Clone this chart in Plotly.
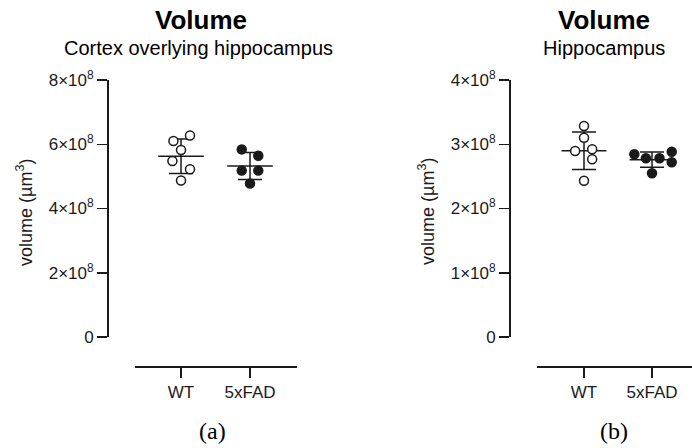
import numpy as np
import plotly.graph_objects as go

# ---------------- data ----------------
categories = ["WT", "5xFAD"]

cortex_wt = [6.10e8, 6.27e8, 5.82e8, 5.48e8, 5.22e8, 4.87e8]
cortex_5xfad = [5.84e8, 5.64e8, 5.18e8, 5.18e8, 4.78e8]

hippo_wt = [3.284e8, 3.102e8, 2.895e8, 2.921e8, 2.766e8, 2.433e8]
hippo_5xfad = [2.844e8, 2.781e8, 2.781e8, 2.884e8, 2.719e8, 2.548e8]

cortex_ticks = [0, 2e8, 4e8, 6e8, 8e8]
cortex_ticktext = ["0", "2×10<sup>8</sup>", "4×10<sup>8</sup>", "6×10<sup>8</sup>", "8×10<sup>8</sup>"]
hippo_ticks = [0, 1e8, 2e8, 3e8, 4e8]
hippo_ticktext = ["0", "1×10<sup>8</sup>", "2×10<sup>8</sup>", "3×10<sup>8</sup>", "4×10<sup>8</sup>"]

# horizontal scatter spread (category units) used to avoid overlapping dots
cortex_wt_jitter = [-0.11, 0.13, 0.0, -0.125, 0.13, 0.0]
cortex_5xfad_jitter = [-0.12, 0.12, -0.12, 0.12, 0.0]
hippo_wt_jitter = [0.0, 0.0, -0.13, 0.12, 0.12, 0.0]
hippo_5xfad_jitter = [-0.26, -0.09, 0.11, 0.29, 0.29, 0.0]

# ---------------- styling ----------------
W, H = 692, 448
FONT = "Liberation Sans, Arial, Helvetica, sans-serif"
INK = "#1a1a1a"
AX_W = 1.5
MEAN_HALF = 0.33


def px(x):
    return x / W


def py(y):
    return 1 - y / H


fig = go.Figure()


def add_group(xa, ya, xpos, values, jitter, filled):
    v = np.array(values)
    mean = v.mean()
    sd = v.std(ddof=1)
    # mean line
    fig.add_trace(go.Scatter(
        x=[xpos - MEAN_HALF, xpos + MEAN_HALF], y=[mean, mean], mode="lines",
        line=dict(color=INK, width=1.5), xaxis=xa, yaxis=ya, hoverinfo="skip"))
    # SD error bar
    fig.add_trace(go.Scatter(
        x=[xpos], y=[mean], mode="markers", marker=dict(size=1, color="rgba(0,0,0,0)"),
        error_y=dict(type="data", array=[sd], visible=True, color=INK,
                     thickness=1.5, width=12),
        xaxis=xa, yaxis=ya, hoverinfo="skip"))
    # points
    fig.add_trace(go.Scatter(
        x=[xpos + j for j in jitter], y=values, mode="markers",
        marker=dict(size=9, color=INK if filled else "white",
                    line=dict(color=INK, width=1.5)),
        xaxis=xa, yaxis=ya, cliponaxis=False))


add_group("x", "y", 0, cortex_wt, cortex_wt_jitter, False)
add_group("x", "y", 1, cortex_5xfad, cortex_5xfad_jitter, True)
add_group("x2", "y2", 0, hippo_wt, hippo_wt_jitter, False)
add_group("x2", "y2", 1, hippo_5xfad, hippo_5xfad_jitter, True)

common_x = dict(showline=True, linecolor=INK, linewidth=AX_W, ticks="outside",
                ticklen=10, tickwidth=AX_W, tickcolor=INK, tickvals=[0, 1],
                ticktext=categories, showgrid=False, zeroline=False,
                tickfont=dict(family=FONT, size=17, color=INK), anchor="free",
                position=py(366), fixedrange=True, automargin=False)
common_y = dict(showline=True, linecolor=INK, linewidth=AX_W, ticks="outside",
                ticklen=10, tickwidth=AX_W, tickcolor=INK, showgrid=False,
                zeroline=False, tickfont=dict(family=FONT, size=17, color=INK),
                anchor="free", domain=[py(337), py(80)], fixedrange=True,
                automargin=False)

fig.update_layout(
    width=W, height=H, margin=dict(l=0, r=0, t=0, b=0, pad=0, autoexpand=False),
    paper_bgcolor="white", plot_bgcolor="white", showlegend=False,
    xaxis=dict(common_x, domain=[px(135), px(297)], range=[-0.667, 1.681]),
    yaxis=dict(common_y, range=[0, 8e8], position=px(107),
               tickvals=cortex_ticks, ticktext=cortex_ticktext),
    xaxis2=dict(common_x, domain=[px(537), 1.0], range=[-0.691, 1.588]),
    yaxis2=dict(common_y, range=[0, 4e8], position=px(509),
                tickvals=hippo_ticks, ticktext=hippo_ticktext),
)

annots = [
    dict(x=px(201), y=py(20), text="<b>Volume</b>", size=26, font=FONT),
    dict(x=px(198), y=py(48), text="Cortex overlying hippocampus", size=20, font=FONT),
    dict(x=px(604), y=py(20), text="<b>Volume</b>", size=26, font=FONT),
    dict(x=px(604), y=py(48), text="Hippocampus", size=20, font=FONT),
    dict(x=px(212), y=py(431), text="(a)", size=24, font="Liberation Serif, Times New Roman, serif"),
    dict(x=px(614), y=py(431), text="(b)", size=24, font="Liberation Serif, Times New Roman, serif"),
]
for a in annots:
    fig.add_annotation(x=a["x"], y=a["y"], xref="paper", yref="paper", text=a["text"],
                       showarrow=False, xanchor="center", yanchor="middle",
                       font=dict(family=a["font"], size=a["size"], color="black"))

for xc in (24, 426):
    fig.add_annotation(x=px(xc), y=py(212), xref="paper", yref="paper",
                       text="volume (µm<sup>3</sup>)", textangle=-90, showarrow=False,
                       xanchor="center", yanchor="middle",
                       font=dict(family=FONT, size=18, color=INK))

fig.write_html(
    "out.html",
    config={"displayModeBar": False, "staticPlot": True},
    post_script="document.body.style.margin='0';document.body.style.padding='0';"
                "document.body.style.overflow='hidden';",
)
